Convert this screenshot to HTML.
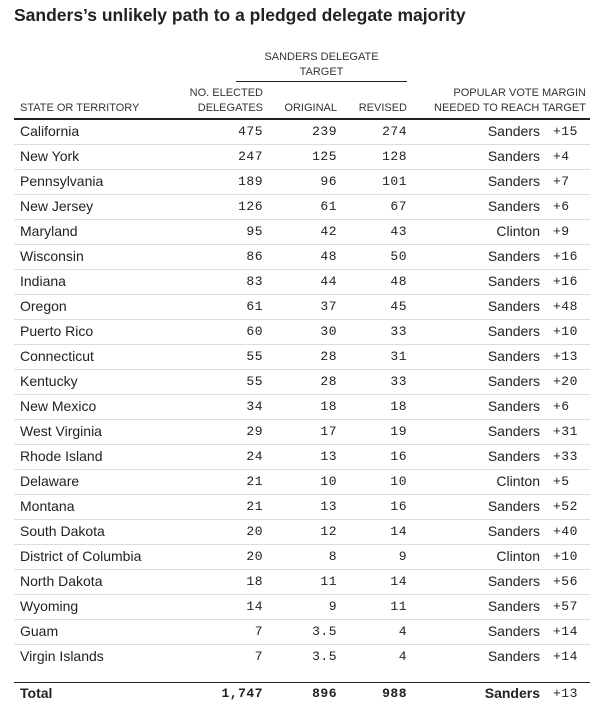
<!DOCTYPE html>
<html><head><meta charset="utf-8"><style>
body{margin:0;width:606px;height:712px;background:#fff;font-family:"Liberation Sans",sans-serif;color:#222;position:relative;overflow:hidden}
.a{position:absolute;white-space:nowrap}
.t{left:14px;top:5px;font-size:17.5px;font-weight:bold;color:#222}
.h{font-size:11px;color:#333;line-height:15px}
.r{font-size:14px;line-height:25px;height:25px}
.n{font-family:"Liberation Mono",monospace;font-size:13px;letter-spacing:0.5px;text-align:right}
.line{position:absolute;left:14px;width:576px;height:1px;background:#ddd}
</style></head><body>
<div class="a t">Sanders’s unlikely path to a pledged delegate majority</div>
<div class="a h" style="left:236px;width:171px;top:50px;text-align:center">SANDERS DELEGATE<br>TARGET</div>
<div class="a" style="left:236px;width:171px;top:81px;height:1px;background:#222"></div>
<div class="a h" style="left:20px;top:101px">STATE OR TERRITORY</div>
<div class="a h" style="right:343px;top:86px;text-align:right">NO. ELECTED<br>DELEGATES</div>
<div class="a h" style="right:269px;top:101px">ORIGINAL</div>
<div class="a h" style="right:199px;top:101px">REVISED</div>
<div class="a h" style="right:20px;top:86px;text-align:right">POPULAR VOTE MARGIN<br>NEEDED TO REACH TARGET</div>
<div class="a" style="left:14px;width:576px;top:118px;height:2px;background:#222"></div>
<div id="rows"></div>
<div class="a" style="left:14px;width:576px;top:682px;height:1px;background:#222"></div>
<div class="a r" style="left:20px;top:681px;font-weight:bold">Total</div>
<div class="a r n" style="right:343px;top:681px;font-weight:bold">1,747</div>
<div class="a r n" style="right:269px;top:681px;font-weight:bold">896</div>
<div class="a r n" style="right:199px;top:681px;font-weight:bold">988</div>
<div class="a r" style="right:66px;top:681px;font-weight:bold">Sanders</div>
<div class="a r n" style="left:553px;top:681px;text-align:left">+13</div>
<script>
var d=[["California",475,239,274,"Sanders","+15"],["New York",247,125,128,"Sanders","+4"],["Pennsylvania",189,96,101,"Sanders","+7"],["New Jersey",126,61,67,"Sanders","+6"],["Maryland",95,42,43,"Clinton","+9"],["Wisconsin",86,48,50,"Sanders","+16"],["Indiana",83,44,48,"Sanders","+16"],["Oregon",61,37,45,"Sanders","+48"],["Puerto Rico",60,30,33,"Sanders","+10"],["Connecticut",55,28,31,"Sanders","+13"],["Kentucky",55,28,33,"Sanders","+20"],["New Mexico",34,18,18,"Sanders","+6"],["West Virginia",29,17,19,"Sanders","+31"],["Rhode Island",24,13,16,"Sanders","+33"],["Delaware",21,10,10,"Clinton","+5"],["Montana",21,13,16,"Sanders","+52"],["South Dakota",20,12,14,"Sanders","+40"],["District of Columbia",20,8,9,"Clinton","+10"],["North Dakota",18,11,14,"Sanders","+56"],["Wyoming",14,9,11,"Sanders","+57"],["Guam",7,"3.5",4,"Sanders","+14"],["Virgin Islands",7,"3.5",4,"Sanders","+14"]];
var h="";d.forEach(function(r,i){var y=119+i*25;
h+='<div class="a r" style="left:20px;top:'+y+'px">'+r[0]+'</div>'+
'<div class="a r n" style="right:343px;top:'+y+'px">'+r[1]+'</div>'+
'<div class="a r n" style="right:269px;top:'+y+'px">'+r[2]+'</div>'+
'<div class="a r n" style="right:199px;top:'+y+'px">'+r[3]+'</div>'+
'<div class="a r" style="right:66px;top:'+y+'px">'+r[4]+'</div>'+
'<div class="a r n" style="left:553px;top:'+y+'px;text-align:left">'+r[5]+'</div>';
if(i<21)h+='<div class="line" style="top:'+(y+25)+'px"></div>';});
document.getElementById("rows").innerHTML=h;
</script>
</body></html>
